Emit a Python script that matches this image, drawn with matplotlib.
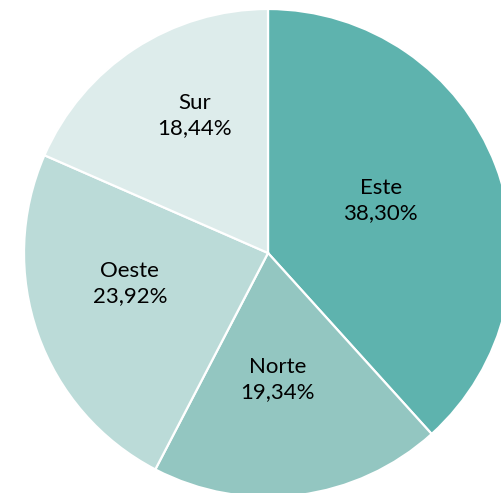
import numpy as np
import matplotlib.pyplot as plt

# --- Data --- #
regions = ['Este', 'Norte', 'Oeste', 'Sur']
shares  = [38.30, 19.34, 23.92, 18.44]
colors  = ['#5EB3AE', '#93C6C1', '#BBDBD8', '#DDECEB']
label_dist = [0.51, 0.52, 0.58, 0.64]   # fraction of radius, per slice
label_turn = [4, -3, -7, -5]             # small angular nudge, degrees

# --- Plot --- #
fig = plt.figure(figsize=(5.02, 4.93), dpi=100)
ax = fig.add_axes([0, 0, 1, 1])

R = 244
wedges, _ = ax.pie(shares, colors=colors, startangle=90, counterclock=False,
                   radius=R, wedgeprops=dict(edgecolor='white', linewidth=1.6))

for w, name, val, d, t in zip(wedges, regions, shares, label_dist, label_turn):
    ang = np.deg2rad((w.theta1 + w.theta2) / 2 + t)
    x, y = d * R * np.cos(ang), d * R * np.sin(ang)
    txt = f"{name}\n{val:.2f}%".replace('.', ',')
    ax.text(x, y, txt, ha='center', va='center', fontsize=16,
            family='Lato', linespacing=1.3, color='black')

ax.set_xlim(-268, 234)
ax.set_ylim(-240, 253)
ax.set_aspect('equal')
ax.axis('off')

fig.savefig('out.png', dpi=100)
